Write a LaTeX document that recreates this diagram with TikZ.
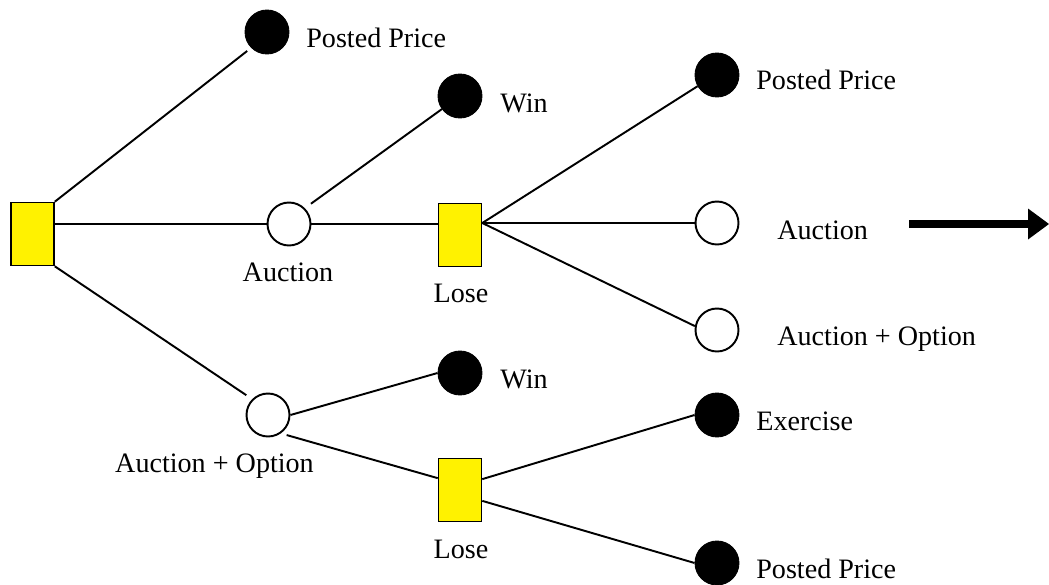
\documentclass[tikz,border=0pt]{standalone}
\usepackage{fontspec}
\setmainfont{Liberation Serif}
\usetikzlibrary{arrows.meta}
\begin{document}
\begin{tikzpicture}[x=0.02cm,y=-0.02cm,
  sq/.style={draw=black, line width=0.9pt, fill=yellow, minimum width=0.86cm, minimum height=1.26cm, inner sep=0},
  chance/.style={circle, draw=black, line width=1.1pt, fill=white, minimum size=0.86cm, inner sep=0},
  term/.style={circle, draw=black, fill=black, line width=0.5pt, minimum size=0.88cm, inner sep=0},
  lbl/.style={font=\fontsize{16}{19}\selectfont, inner sep=0},
  conn/.style={line width=1.1pt}]
\useasboundingbox (0,0) rectangle (1049,585);
% decision and chance nodes
\node[sq] (s1) at (32.5,234) {};
\node[term] (pp1) at (267,32) {};
\node[chance] (auc) at (289,224) {};
\node[term] (win1) at (460,96) {};
\node[sq] (lose1) at (460,235) {};
\node[term] (pp2) at (717,75) {};
\node[chance] (auc2) at (717,223) {};
\node[chance] (ao2) at (717,330) {};
\node[chance] (ao) at (268,415) {};
\node[term] (win2) at (460,373) {};
\node[sq] (lose2) at (460,490) {};
\node[term] (ex) at (717,415) {};
\node[term] (pp3) at (717,563) {};
% connectors
\draw[conn, shorten >=0.1cm] (s1.north east) -- (pp1.south west);
\draw[conn] (s1.east |- auc) -- (auc);
\draw[conn, shorten >=0.14cm] (s1.south east) -- (ao.north west);
\draw[conn, shorten <=0.15cm] (auc.45) -- (win1);
\draw[conn] (auc) -- (lose1.west |- auc);
\draw[conn] (lose1.east |- auc2) -- (pp2.210);
\draw[conn] (lose1.east |- auc2) -- (auc2);
\draw[conn] (lose1.east |- auc2) -- (ao2.170);
\draw[conn] (ao.east) -- (win2.west);
\draw[conn, shorten <=0.12cm] (ao.-55) -- (lose2.152);
\draw[conn] (lose2.26.6) -- (ex.west);
\draw[conn] (lose2.-26.6) -- (pp3.west);
% arrow
\coordinate (aS) at (909,224);
\coordinate (aE) at (1049,224);
\draw[line width=0.16cm, -{Triangle[length=0.42cm,width=0.62cm,line width=0pt]}] (aS) -- (aE);
% labels
\node[lbl, anchor=base west] (tpp1) at (306,47) {Posted Price};
\node[lbl, anchor=base west] (twin1) at (500,112) {Win};
\node[lbl, anchor=base west] (tpp2) at (756,89) {Posted Price};
\node[lbl, anchor=base west] (tauc2) at (777,239) {Auction};
\node[lbl, anchor=base west] (tao2) at (777,345) {Auction + Option};
\node[lbl, anchor=base] (tauc) at (288,281) {Auction};
\node[lbl, anchor=base] (tlose1) at (461,302) {Lose};
\node[lbl, anchor=base west] (twin2) at (500,388) {Win};
\node[lbl, anchor=base] (tao) at (214.5,472) {Auction + Option};
\node[lbl, anchor=base] (tlose2) at (461,558) {Lose};
\node[lbl, anchor=base west] (tex) at (756,430) {Exercise};
\node[lbl, anchor=base west] (tpp3) at (756,578) {Posted Price};
\end{tikzpicture}
\end{document}
